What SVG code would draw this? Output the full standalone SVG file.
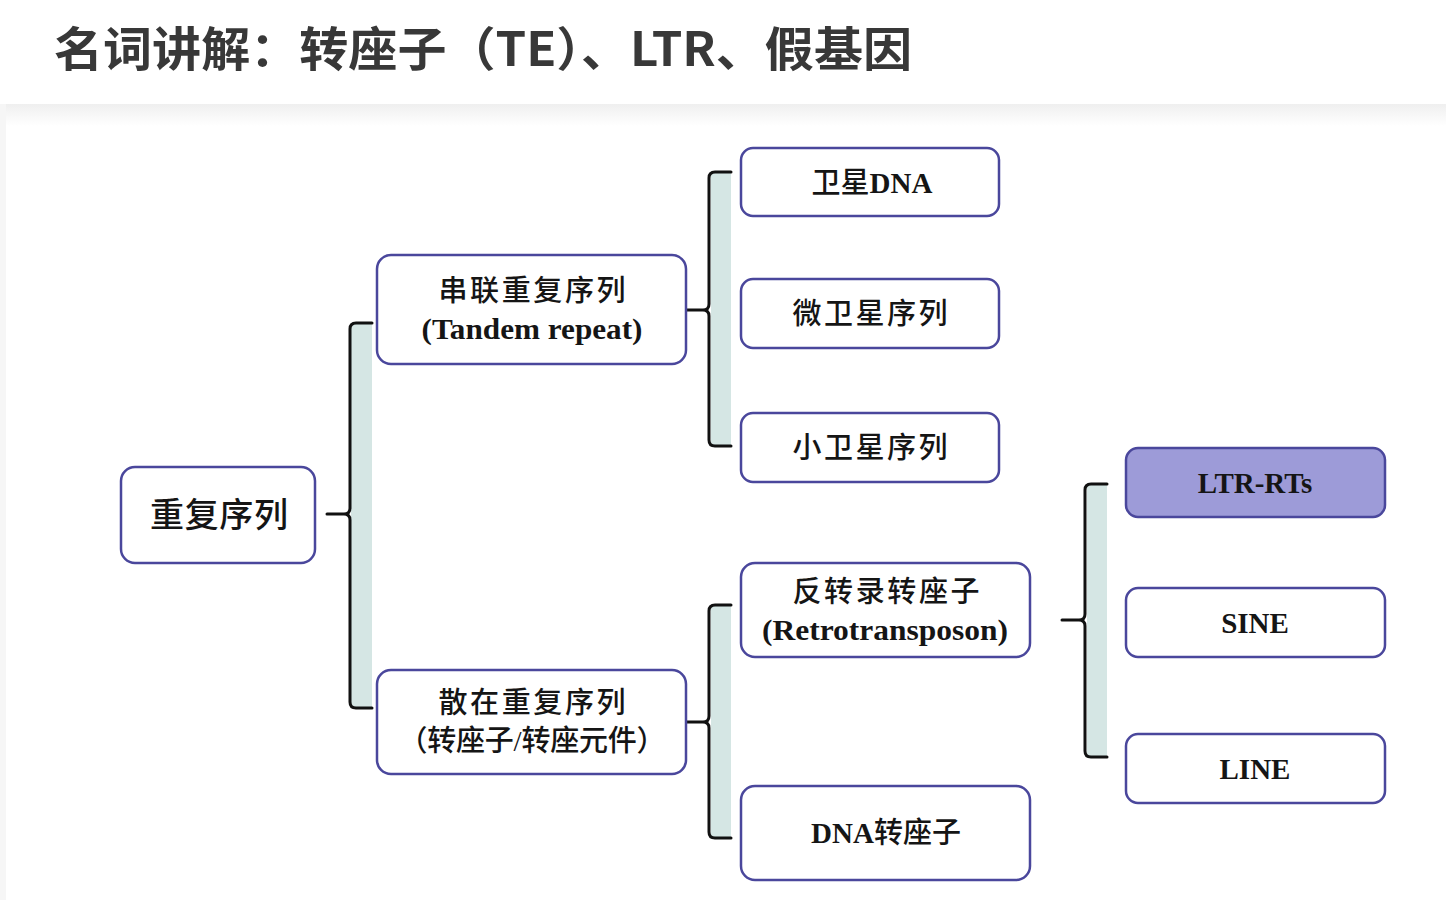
<svg xmlns="http://www.w3.org/2000/svg" width="1446" height="900" viewBox="0 0 1446 900">
  <defs>
    <linearGradient id="shadow" x1="0" y1="0" x2="0" y2="1">
      <stop offset="0" stop-color="#efefef"/>
      <stop offset="1" stop-color="#ffffff"/>
    </linearGradient>
    <style>
      .box { fill: #ffffff; stroke: #4a479c; stroke-width: 2.5; }
      .boxhl { fill: #9d9bd8; stroke: #4a479c; stroke-width: 2.5; }
      .band { fill: #d5e6e4; }
      .brace { fill: none; stroke: #111111; stroke-width: 3; stroke-linejoin: round; stroke-linecap: round; }
      .t { font-family: "Liberation Serif", "Noto Sans CJK SC", serif; fill: #151515; text-anchor: middle; }
      .cn { font-size: 29px; font-weight: 500; }
      .en { font-size: 29px; font-weight: bold; }
      .zh { font-weight: 500; }
      .title { font-family: "Noto Sans CJK SC", "Noto Sans", sans-serif; font-weight: bold; font-size: 47px; fill: #383838; }
    </style>
  </defs>

  <rect x="0" y="0" width="1446" height="900" fill="#ffffff"/>
  <rect x="0" y="104" width="1446" height="22" fill="url(#shadow)"/>
  <rect x="0" y="104" width="6" height="796" fill="#f6f6f6"/>

  <text class="title" x="54" y="66" textLength="858" lengthAdjust="spacingAndGlyphs">名词讲解：转座子（TE）、LTR、假基因</text>

  <g id="connectors">
    <rect class="band" x="351" y="323" width="21" height="385"/>
    <path class="brace" d="M372,323 H356 Q350,323 350,329 V508 Q350,514 344,514 H327 M344,514 Q350,514 350,520 V702 Q350,708 356,708 H372"/>

    <rect class="band" x="711" y="172" width="20" height="274"/>
    <path class="brace" d="M731,172 H715 Q709,172 709,178 V304 Q709,310 703,310 H687 M703,310 Q709,310 709,316 V440 Q709,446 715,446 H731"/>

    <rect class="band" x="711" y="605" width="20" height="233"/>
    <path class="brace" d="M731,605 H715 Q709,605 709,611 V716 Q709,722 703,722 H687 M703,722 Q709,722 709,728 V832 Q709,838 715,838 H731"/>

    <rect class="band" x="1087" y="484" width="20" height="273"/>
    <path class="brace" d="M1107,484 H1091 Q1085,484 1085,490 V614 Q1085,620 1079,620 H1062 M1079,620 Q1085,620 1085,626 V751 Q1085,757 1091,757 H1107"/>
  </g>

  <g id="node-repeat">
    <rect class="box" x="121" y="467" width="194" height="96" rx="14"/>
    <text class="t" x="219" y="527" font-size="34" font-weight="500" textLength="138" lengthAdjust="spacing">重复序列</text>
  </g>

  <g id="node-tandem">
    <rect class="box" x="377" y="255" width="309" height="109" rx="14"/>
    <text class="t cn" x="532" y="301" textLength="187" lengthAdjust="spacing">串联重复序列</text>
    <text class="t en" x="532" y="339" textLength="221" lengthAdjust="spacingAndGlyphs">(Tandem repeat)</text>
  </g>

  <g id="node-interspersed">
    <rect class="box" x="377" y="670" width="309" height="104" rx="14"/>
    <text class="t cn" x="532" y="713" textLength="187" lengthAdjust="spacing">散在重复序列</text>
    <text class="t cn" x="532" y="751" textLength="267" lengthAdjust="spacing">（转座子/转座元件）</text>
  </g>

  <g id="node-satellite">
    <rect class="box" x="741" y="148" width="258" height="68" rx="12"/>
    <text class="t en" x="872" y="193"><tspan class="zh">卫星</tspan>DNA</text>
  </g>

  <g id="node-microsatellite">
    <rect class="box" x="741" y="279" width="258" height="69" rx="12"/>
    <text class="t cn" x="870" y="324" textLength="155" lengthAdjust="spacing">微卫星序列</text>
  </g>

  <g id="node-minisatellite">
    <rect class="box" x="741" y="413" width="258" height="69" rx="12"/>
    <text class="t cn" x="870" y="458" textLength="155" lengthAdjust="spacing">小卫星序列</text>
  </g>

  <g id="node-retro">
    <rect class="box" x="741" y="563" width="289" height="94" rx="14"/>
    <text class="t cn" x="886" y="602" textLength="187" lengthAdjust="spacing">反转录转座子</text>
    <text class="t en" x="885" y="640" textLength="246" lengthAdjust="spacingAndGlyphs">(Retrotransposon)</text>
  </g>

  <g id="node-dna-transposon">
    <rect class="box" x="741" y="786" width="289" height="94" rx="14"/>
    <text class="t en" x="886" y="843">DNA<tspan class="zh">转座子</tspan></text>
  </g>

  <g id="node-ltr">
    <rect class="boxhl" x="1126" y="448" width="259" height="69" rx="12"/>
    <text class="t en" x="1255" y="493">LTR-RTs</text>
  </g>

  <g id="node-sine">
    <rect class="box" x="1126" y="588" width="259" height="69" rx="12"/>
    <text class="t en" x="1255" y="633">SINE</text>
  </g>

  <g id="node-line">
    <rect class="box" x="1126" y="734" width="259" height="69" rx="12"/>
    <text class="t en" x="1255" y="779">LINE</text>
  </g>
</svg>
